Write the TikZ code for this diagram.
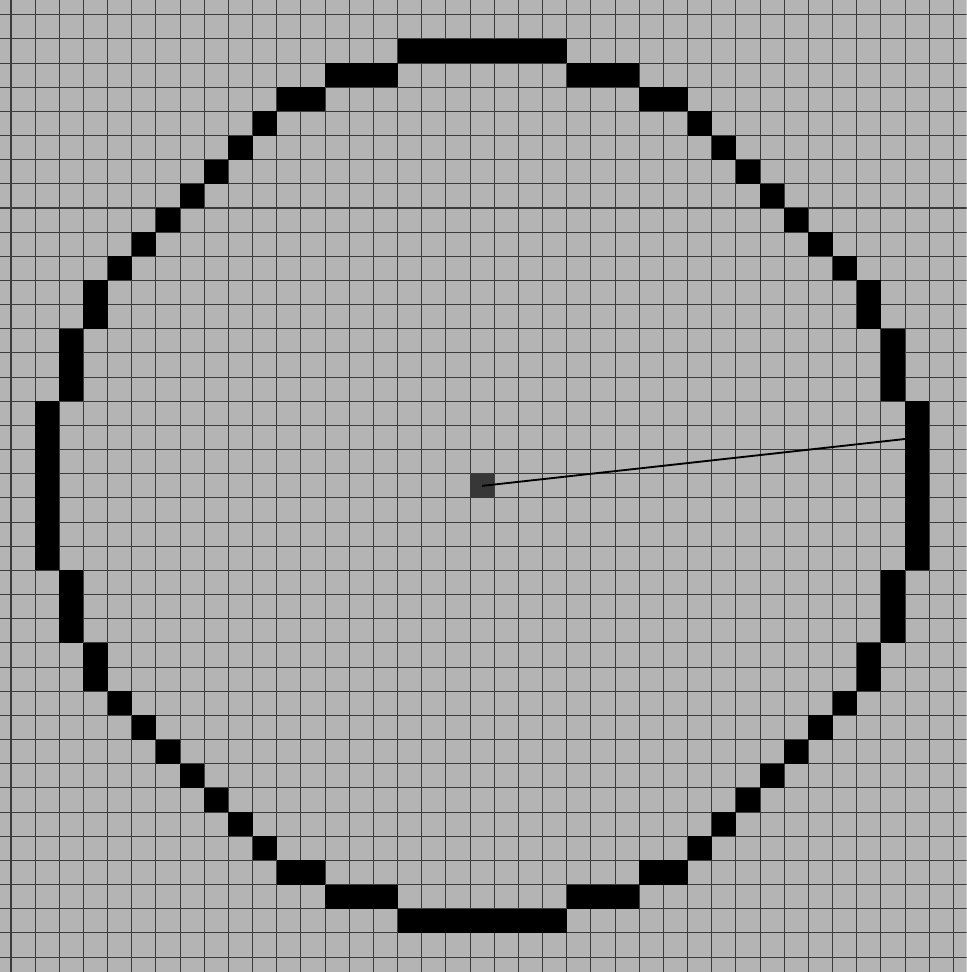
\documentclass[tikz,border=0pt]{standalone}
\usepackage{tikz}
\usepackage{xcolor}
\definecolor{canvasgray}{RGB}{180,180,180}
\definecolor{gridgray}{RGB}{60,60,60}
\definecolor{hubgray}{RGB}{55,55,55}

\begin{document}
\begin{tikzpicture}[scale=0.5,
		gridline/.style={draw=gridgray, line width=0.6pt},
		ringcell/.style={fill=black},
		hubcell/.style={rectangle, fill=hubgray, inner sep=0pt, minimum size=5mm},
		radiusline/.style={draw=black, line width=1.1pt},
		]
		%Canvas
		\clip (-0.455,0.608) rectangle (39.545,-39.62);
		\fill[canvasgray] (-1,1) rectangle (41,-41);
		\draw[gridline] (-1,1) grid (41,-41);
		
		%Ring cells (one octant, mirrored)
		\foreach \dx/\dy in {0/18,1/18,2/18,3/18,4/17,5/17,6/17,7/16,8/16,9/15,10/14,11/13,12/12} {
			\foreach \sx in {1,-1} {
				\foreach \sy in {1,-1} {
					\fill[ringcell] ({19+\sx*\dx},{-19-\sy*\dy}) rectangle +(1,-1);
					\fill[ringcell] ({19+\sx*\dy},{-19-\sy*\dx}) rectangle +(1,-1);
				}
			}
		}
		
		%Nodes
		\node[hubcell] (hub) at (19.5,-19.5) {};
		\coordinate (tip) at (37,-17.56);
		
		%Lines
		\draw[radiusline] (hub.center) -- (tip);
	\end{tikzpicture}
\end{document}
